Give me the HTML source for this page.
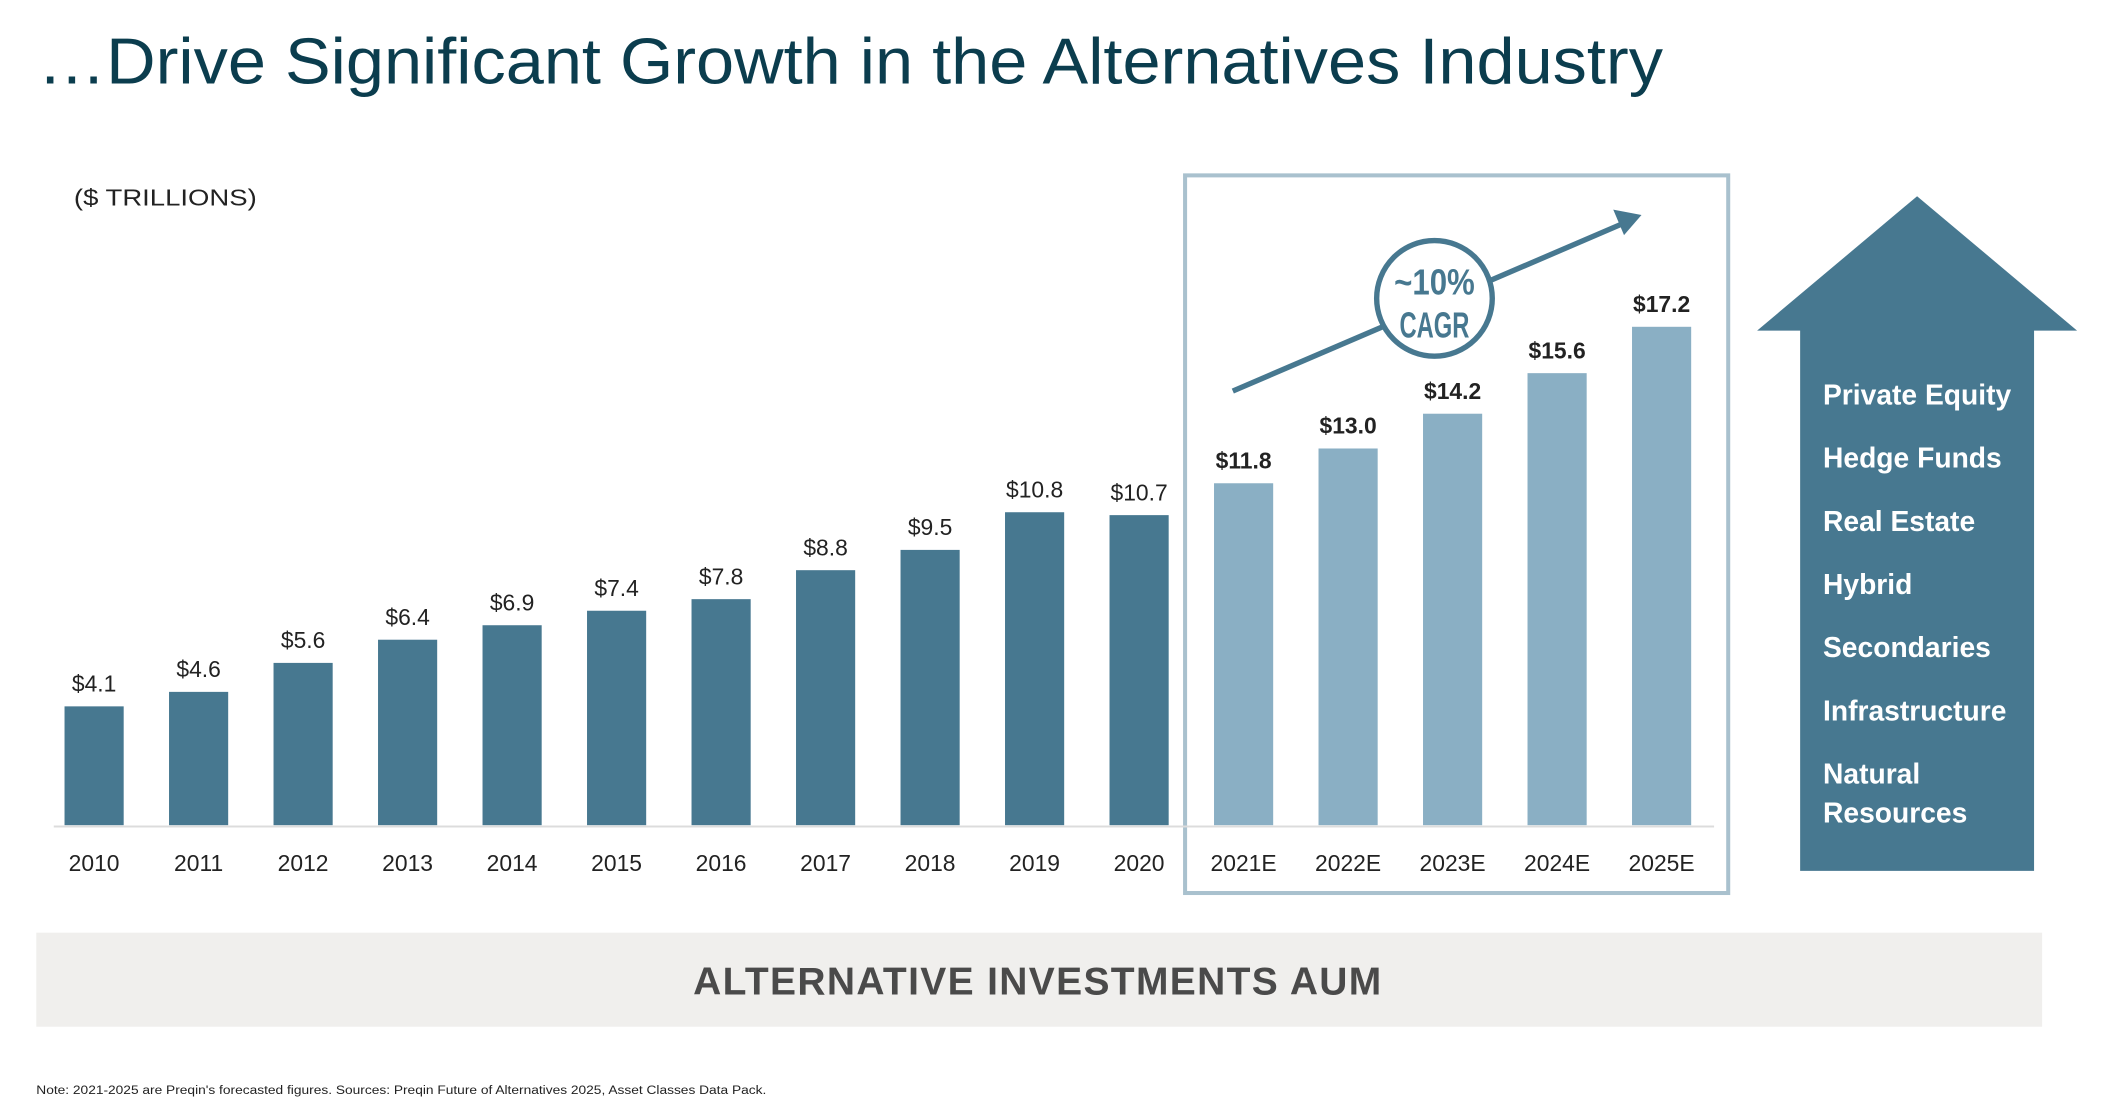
<!DOCTYPE html>
<html><head><meta charset="utf-8"><style>
html,body{margin:0;padding:0;background:#fff;}
svg{display:block;font-family:"Liberation Sans",sans-serif;}
</style></head><body>
<svg id="chart" width="2108" height="1102" viewBox="0 0 1568 820" preserveAspectRatio="none" xmlns="http://www.w3.org/2000/svg">
<text x="28" y="62" font-size="48" fill="#0b3d4e" textLength="1209" lengthAdjust="spacingAndGlyphs">…Drive Significant Growth in the Alternatives Industry</text>
<text x="55" y="153" font-size="17" fill="#222" textLength="136" lengthAdjust="spacingAndGlyphs">($ TRILLIONS)</text>
<rect x="881.5" y="130.5" width="404" height="534" fill="none" stroke="#a9c1ce" stroke-width="3"/>
<line x1="40" y1="615" x2="1275" y2="615" stroke="#dcdcdc" stroke-width="1.5"/>
<g id="bars"></g>
<g>
<line x1="917" y1="291" x2="1208" y2="166" stroke="#477890" stroke-width="4"/>
<polygon points="1221,160 1200,156 1208,175" fill="#477890"/>
<circle cx="1067" cy="222" r="43" fill="#fff" stroke="#477890" stroke-width="4"/>
<text x="1067" y="219" font-size="27" font-weight="bold" fill="#477890" text-anchor="middle" textLength="60" lengthAdjust="spacingAndGlyphs">~10%</text>
<text x="1067" y="251" font-size="27" font-weight="bold" fill="#477890" text-anchor="middle" textLength="52" lengthAdjust="spacingAndGlyphs">CAGR</text>
</g>
<g>
<polygon points="1307,246 1426,146 1545,246 1513,246 1513,648 1339,648 1339,246" fill="#477890"/>
<g font-size="21" font-weight="bold" fill="#fff">
<text x="1356" y="301">Private Equity</text>
<text x="1356" y="348">Hedge Funds</text>
<text x="1356" y="395">Real Estate</text>
<text x="1356" y="442">Hybrid</text>
<text x="1356" y="489">Secondaries</text>
<text x="1356" y="536">Infrastructure</text>
<text x="1356" y="583">Natural</text>
<text x="1356" y="612">Resources</text>
</g>
</g>
<rect x="27" y="694" width="1492" height="70" fill="#f0efed"/>
<text x="772" y="740" font-size="29" font-weight="bold" fill="#4a4a4a" text-anchor="middle" letter-spacing="1">ALTERNATIVE INVESTMENTS AUM</text>
<text x="27" y="814" font-size="9" fill="#222" textLength="543" lengthAdjust="spacingAndGlyphs">Note: 2021-2025 are Preqin's forecasted figures. Sources: Preqin Future of Alternatives 2025, Asset Classes Data Pack.</text>
</svg>
<script>
const categories = ["2010","2011","2012","2013","2014","2015","2016","2017","2018","2019","2020","2021E","2022E","2023E","2024E","2025E"];
const values = [4.1,4.6,5.6,6.4,6.9,7.4,7.8,8.8,9.5,10.8,10.7,11.8,13.0,14.2,15.6,17.2];
const valueLabels = ["$4.1","$4.6","$5.6","$6.4","$6.9","$7.4","$7.8","$8.8","$9.5","$10.8","$10.7","$11.8","$13.0","$14.2","$15.6","$17.2"];
const isForecast = [false,false,false,false,false,false,false,false,false,false,false,true,true,true,true,true];

const NS = "http://www.w3.org/2000/svg";
const g = document.getElementById("bars");
const baseY = 614, pxPerUnit = 21.56, firstX = 70, step = 77.73, barW = 44;
function xScale(i){ return firstX + i*step; }
function yScale(v){ return baseY - v*pxPerUnit; }
categories.forEach((c,i)=>{
  const cx = xScale(i), top = yScale(values[i]);
  const r = document.createElementNS(NS,"rect");
  
  
  r.setAttribute("x", cx-barW/2); r.setAttribute("y", top);
  r.setAttribute("width", barW); r.setAttribute("height", baseY-top);
  r.setAttribute("fill", isForecast[i] ? "#8aafc4" : "#477890");
  g.appendChild(r);
  const t = document.createElementNS(NS,"text");
  
  
  t.setAttribute("x", cx); t.setAttribute("y", top-11);
  t.setAttribute("text-anchor","middle"); t.setAttribute("font-size","17");
  t.setAttribute("fill","#222");
  if (isForecast[i]) t.setAttribute("font-weight","bold");
  t.textContent = valueLabels[i];
  g.appendChild(t);
  const x = document.createElementNS(NS,"text");
  
  
  x.setAttribute("x", cx); x.setAttribute("y", 648);
  x.setAttribute("text-anchor","middle"); x.setAttribute("font-size","17");
  x.setAttribute("fill","#222");
  x.textContent = c;
  g.appendChild(x);
});
</script>
</body></html>
